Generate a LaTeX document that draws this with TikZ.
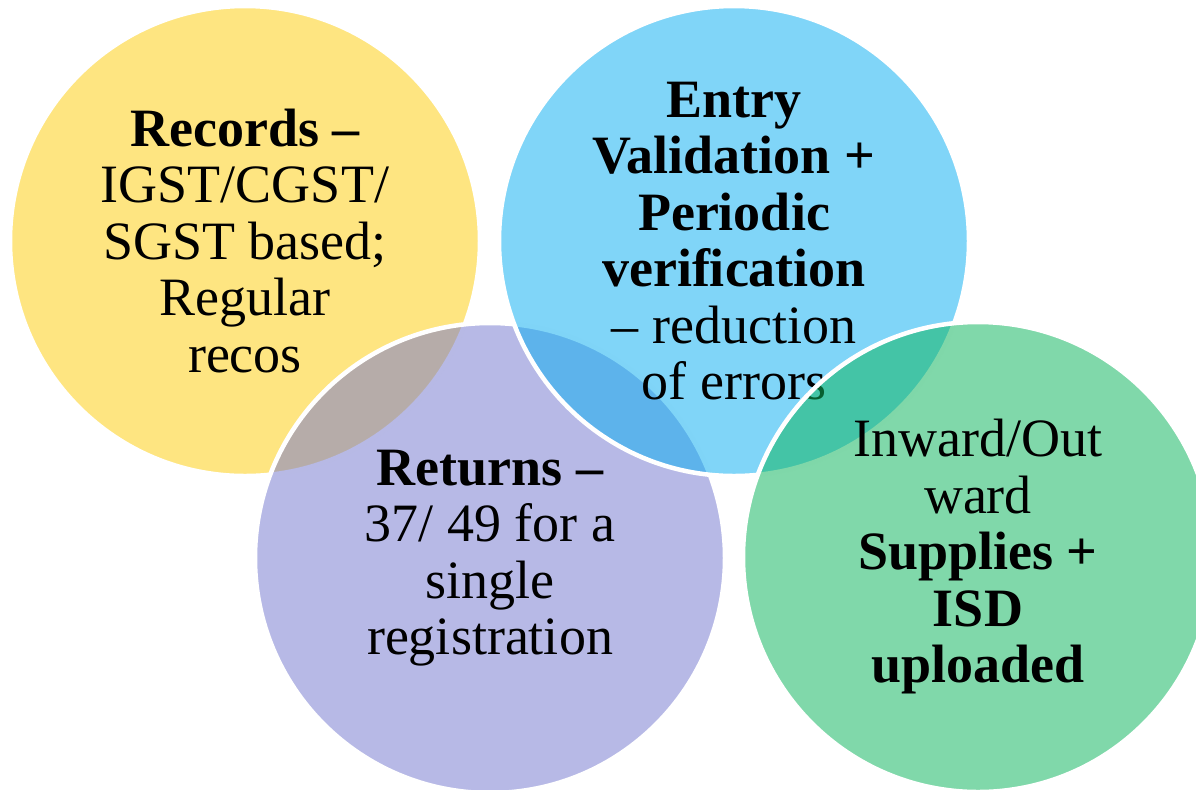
\documentclass[tikz,border=0pt]{standalone}
\usepackage{fontspec}
\setmainfont{Liberation Serif}
\definecolor{recyellow}{RGB}{253,206,17}
\definecolor{retpurple}{RGB}{119,123,207}
\definecolor{entryblue}{RGB}{15,175,241}
\definecolor{inwgreen}{RGB}{15,181,94}

\begin{document}
\begin{tikzpicture}[x=0.5pt,y=-0.5pt,
  bubble/.style={circle,minimum size=235pt,inner sep=0pt,fill opacity=0.53,text opacity=1,
    draw=white,line width=2.25pt,align=center,font=\fontsize{27}{28.25}\selectfont}]
\useasboundingbox (0,0) rectangle (1196,789);
\begin{scope}
\clip (0,0) rectangle (1196,789);
\node[bubble,fill=recyellow] (rec) at (245,241) {\textbf{Records –}\\IGST/CGST/\\SGST based;\\Regular\\recos};
\node[bubble,fill=retpurple] (ret) at (490,558) {\textbf{Returns –}\\37/ 49 for a\\single\\registration};
\node[bubble,fill=entryblue] (entry) at (734,241) {\textbf{Entry}\\\textbf{Validation +}\\\textbf{Periodic}\\\textbf{verification}\\– reduction\\of errors};
\node[bubble,fill=inwgreen] (inw) at (978,557) {Inward/Out\\ward\\\textbf{Supplies +}\\\textbf{ISD}\\\textbf{uploaded}};
\end{scope}
\end{tikzpicture}
\end{document}
